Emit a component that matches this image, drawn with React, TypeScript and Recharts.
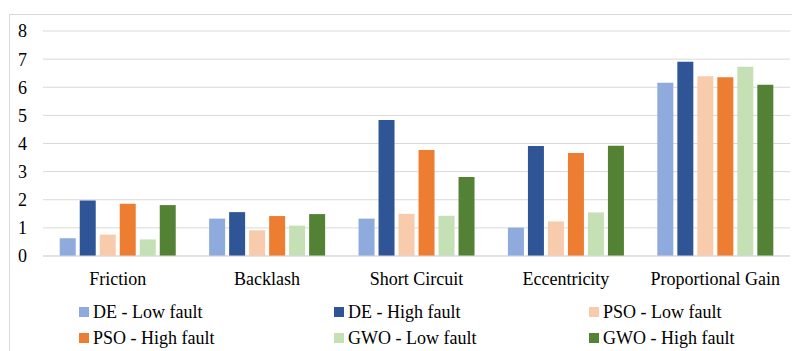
import { BarChart, Bar, XAxis, YAxis, CartesianGrid, Legend } from 'recharts';

const categories = ['Friction', 'Backlash', 'Short Circuit', 'Eccentricity', 'Proportional Gain'];

const deLow = [0.63, 1.33, 1.33, 1.01, 6.16];
const deHigh = [1.97, 1.56, 4.84, 3.91, 6.91];
const psoLow = [0.76, 0.92, 1.5, 1.23, 6.39];
const psoHigh = [1.86, 1.42, 3.77, 3.66, 6.36];
const gwoLow = [0.59, 1.08, 1.43, 1.55, 6.73];
const gwoHigh = [1.81, 1.49, 2.81, 3.92, 6.09];

const yTicks = [0, 1, 2, 3, 4, 5, 6, 7, 8];

const series = [
    { key: 'deLow', name: 'DE - Low fault', color: '#8FAADC', values: deLow },
    { key: 'deHigh', name: 'DE - High fault', color: '#2F5597', values: deHigh },
    { key: 'psoLow', name: 'PSO - Low fault', color: '#F8CBAD', values: psoLow },
    { key: 'psoHigh', name: 'PSO - High fault', color: '#ED7D31', values: psoHigh },
    { key: 'gwoLow', name: 'GWO - Low fault', color: '#C5E0B4', values: gwoLow },
    { key: 'gwoHigh', name: 'GWO - High fault', color: '#548235', values: gwoHigh },
];

const data = categories.map((name, i) => {
    const row: Record<string, string | number> = { name };
    series.forEach((s) => {
        row[s.key] = s.values[i];
    });
    return row;
});

const FONT = "'Times New Roman', 'Liberation Serif', 'DejaVu Serif', serif";

function LegendContent() {
    return (
        <div style={{ position: 'relative', width: 792, height: 52 }}>
            {series.map((s, i) => {
                const col = i % 3;
                const row = Math.floor(i / 3);
                return (
                    <div
                        key={s.key}
                        style={{
                            position: 'absolute',
                            left: 79 + col * 255,
                            top: row * 26,
                            height: 20,
                            display: 'flex',
                            alignItems: 'center',
                            fontFamily: FONT,
                            fontSize: 18,
                            color: '#000',
                            whiteSpace: 'nowrap',
                        }}
                    >
                        <span
                            style={{
                                display: 'inline-block',
                                width: 10,
                                height: 10,
                                background: s.color,
                                marginRight: 4,
                            }}
                        />
                        {s.name}
                    </div>
                );
            })}
        </div>
    );
}

export default function App() {
    return (
        <div style={{ position: 'absolute', left: 0, top: 0, width: 792, height: 351, background: '#fff', overflow: 'hidden' }}>
            <div
                style={{
                    position: 'absolute',
                    left: 9,
                    top: 14,
                    width: 782,
                    height: 400,
                    border: '1px solid #d9d9d9',
                }}
            />
            <BarChart
                width={792}
                height={351}
                data={data}
                margin={{ top: 31, right: 2, left: 0, bottom: 65 }}
                barCategoryGap="11.2%"
                barGap={4}
                style={{ fontFamily: FONT }}
            >
                <CartesianGrid vertical={false} stroke="#d9d9d9" strokeWidth={1} />
                <XAxis
                    dataKey="name"
                    height={30}
                    tickLine={false}
                    tickSize={0}
                    tickMargin={16}
                    axisLine={{ stroke: '#d9d9d9' }}
                    tick={{ fontFamily: FONT, fontSize: 18, fill: '#000' }}
                />
                <YAxis
                    width={43}
                    domain={[0, 8]}
                    ticks={yTicks}
                    tickLine={false}
                    axisLine={false}
                    tickSize={0}
                    tickMargin={16}
                    tick={{ fontFamily: FONT, fontSize: 18, fill: '#000' }}
                />
                <Legend
                    layout="horizontal"
                    verticalAlign="middle"
                    align="center"
                    content={() => <LegendContent />}
                    wrapperStyle={{ left: 0, top: 302, width: 792 }}
                />
                {series.map((s) => (
                    <Bar key={s.key} dataKey={s.key} name={s.name} fill={s.color} isAnimationActive={false} />
                ))}
            </BarChart>
        </div>
    );
}
